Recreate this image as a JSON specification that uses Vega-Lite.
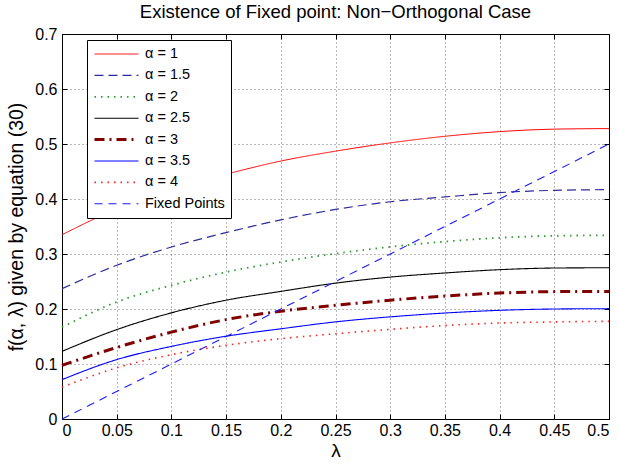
{
  "$schema": "https://vega.github.io/schema/vega-lite/v6.json",
  "width": 547,
  "height": 385,
  "autosize": {"type": "none"},
  "padding": {"left": 62, "top": 34, "right": 9, "bottom": 45},
  "background": "white",
  "title": {"text": "Existence of Fixed point: Non−Orthogonal Case", "font": "Liberation Sans", "fontSize": 18.5, "fontWeight": "normal", "color": "black", "offset": 5, "anchor": "middle"},
  "config": {
    "view": {"stroke": "black", "strokeWidth": 1},
    "font": "Liberation Sans",
    "axis": {"labelFont": "Liberation Sans", "labelFontSize": 16, "labelColor": "black", "titleFont": "Liberation Sans", "titleFontWeight": "normal", "titleColor": "black", "domainColor": "black", "tickColor": "black", "gridColor": "#000000", "gridOpacity": 0.55, "gridDash": [1, 3]}
  },
  "data": {"values": [
    {"series": "α = 1", "lam": 0, "f": 0.335}, {"series": "α = 1", "lam": 0.05, "f": 0.382}, {"series": "α = 1", "lam": 0.1, "f": 0.418}, {"series": "α = 1", "lam": 0.15, "f": 0.445}, {"series": "α = 1", "lam": 0.2, "f": 0.469}, {"series": "α = 1", "lam": 0.25, "f": 0.487}, {"series": "α = 1", "lam": 0.3, "f": 0.502}, {"series": "α = 1", "lam": 0.35, "f": 0.514}, {"series": "α = 1", "lam": 0.4, "f": 0.5225}, {"series": "α = 1", "lam": 0.45, "f": 0.527}, {"series": "α = 1", "lam": 0.5, "f": 0.528},
    {"series": "α = 1.5", "lam": 0, "f": 0.237}, {"series": "α = 1.5", "lam": 0.05, "f": 0.2795}, {"series": "α = 1.5", "lam": 0.1, "f": 0.3127}, {"series": "α = 1.5", "lam": 0.15, "f": 0.339}, {"series": "α = 1.5", "lam": 0.2, "f": 0.362}, {"series": "α = 1.5", "lam": 0.25, "f": 0.381}, {"series": "α = 1.5", "lam": 0.3, "f": 0.395}, {"series": "α = 1.5", "lam": 0.35, "f": 0.4037}, {"series": "α = 1.5", "lam": 0.4, "f": 0.4116}, {"series": "α = 1.5", "lam": 0.45, "f": 0.4158}, {"series": "α = 1.5", "lam": 0.5, "f": 0.417},
    {"series": "α = 2", "lam": 0, "f": 0.167}, {"series": "α = 2", "lam": 0.05, "f": 0.2127}, {"series": "α = 2", "lam": 0.1, "f": 0.243}, {"series": "α = 2", "lam": 0.15, "f": 0.267}, {"series": "α = 2", "lam": 0.2, "f": 0.2855}, {"series": "α = 2", "lam": 0.25, "f": 0.3007}, {"series": "α = 2", "lam": 0.3, "f": 0.313}, {"series": "α = 2", "lam": 0.35, "f": 0.3225}, {"series": "α = 2", "lam": 0.4, "f": 0.3295}, {"series": "α = 2", "lam": 0.45, "f": 0.333}, {"series": "α = 2", "lam": 0.5, "f": 0.334},
    {"series": "α = 2.5", "lam": 0, "f": 0.123}, {"series": "α = 2.5", "lam": 0.05, "f": 0.1625}, {"series": "α = 2.5", "lam": 0.1, "f": 0.193}, {"series": "α = 2.5", "lam": 0.15, "f": 0.216}, {"series": "α = 2.5", "lam": 0.2, "f": 0.232}, {"series": "α = 2.5", "lam": 0.25, "f": 0.247}, {"series": "α = 2.5", "lam": 0.3, "f": 0.258}, {"series": "α = 2.5", "lam": 0.35, "f": 0.2655}, {"series": "α = 2.5", "lam": 0.4, "f": 0.2715}, {"series": "α = 2.5", "lam": 0.45, "f": 0.2745}, {"series": "α = 2.5", "lam": 0.5, "f": 0.275},
    {"series": "α = 3", "lam": 0, "f": 0.0976}, {"series": "α = 3", "lam": 0.05, "f": 0.13}, {"series": "α = 3", "lam": 0.1, "f": 0.158}, {"series": "α = 3", "lam": 0.15, "f": 0.1807}, {"series": "α = 3", "lam": 0.2, "f": 0.196}, {"series": "α = 3", "lam": 0.25, "f": 0.2067}, {"series": "α = 3", "lam": 0.3, "f": 0.216}, {"series": "α = 3", "lam": 0.35, "f": 0.2235}, {"series": "α = 3", "lam": 0.4, "f": 0.229}, {"series": "α = 3", "lam": 0.45, "f": 0.2316}, {"series": "α = 3", "lam": 0.5, "f": 0.232},
    {"series": "α = 3.5", "lam": 0, "f": 0.0716}, {"series": "α = 3.5", "lam": 0.05, "f": 0.108}, {"series": "α = 3.5", "lam": 0.1, "f": 0.132}, {"series": "α = 3.5", "lam": 0.15, "f": 0.1505}, {"series": "α = 3.5", "lam": 0.2, "f": 0.164}, {"series": "α = 3.5", "lam": 0.25, "f": 0.1766}, {"series": "α = 3.5", "lam": 0.3, "f": 0.1857}, {"series": "α = 3.5", "lam": 0.35, "f": 0.1927}, {"series": "α = 3.5", "lam": 0.4, "f": 0.1976}, {"series": "α = 3.5", "lam": 0.45, "f": 0.2}, {"series": "α = 3.5", "lam": 0.5, "f": 0.2006},
    {"series": "α = 4", "lam": 0, "f": 0.058}, {"series": "α = 4", "lam": 0.05, "f": 0.093}, {"series": "α = 4", "lam": 0.1, "f": 0.117}, {"series": "α = 4", "lam": 0.15, "f": 0.134}, {"series": "α = 4", "lam": 0.2, "f": 0.146}, {"series": "α = 4", "lam": 0.25, "f": 0.155}, {"series": "α = 4", "lam": 0.3, "f": 0.163}, {"series": "α = 4", "lam": 0.35, "f": 0.17}, {"series": "α = 4", "lam": 0.4, "f": 0.1745}, {"series": "α = 4", "lam": 0.45, "f": 0.1765}, {"series": "α = 4", "lam": 0.5, "f": 0.1776},
    {"series": "Fixed Points", "lam": 0, "f": 0}, {"series": "Fixed Points", "lam": 0.5, "f": 0.5}
  ]},
  "layer": [
    {
      "mark": {"type": "line", "interpolate": "monotone"},
      "encoding": {
        "x": {"field": "lam", "type": "quantitative", "scale": {"domain": [0, 0.5], "nice": false, "zero": false},
          "axis": {"orient": "bottom", "title": "λ", "titleFontSize": 19, "titlePadding": 3, "values": [0, 0.05, 0.1, 0.15, 0.2, 0.25, 0.3, 0.35, 0.4, 0.45, 0.5], "format": "~g", "tickSize": -5, "labelPadding": 8, "grid": true}},
        "y": {"field": "f", "type": "quantitative", "scale": {"domain": [0, 0.7], "nice": false, "zero": false},
          "axis": {"orient": "left", "title": "f(α, λ) given by equation (30)", "titleFontSize": 19.5, "titlePadding": 8, "values": [0, 0.1, 0.2, 0.3, 0.4, 0.5, 0.6, 0.7], "format": "~g", "tickSize": -5, "labelPadding": 10, "grid": true}},
        "color": {"field": "series", "type": "nominal",
          "scale": {"domain": ["α = 1", "α = 1.5", "α = 2", "α = 2.5", "α = 3", "α = 3.5", "α = 4", "Fixed Points"],
                    "range": ["#ff0000", "#2b2b9a", "#2e9a2e", "#000000", "#800000", "#0000ff", "#ff2020", "#1a1aff"]},
          "legend": {"orient": "none", "legendX": 25, "legendY": 6, "title": null, "symbolType": "stroke", "symbolSize": 1936, "clipHeight": 16, "rowPadding": 5.4, "labelFont": "Liberation Sans", "labelFontSize": 14.5, "labelColor": "black", "strokeColor": "black", "fillColor": "white", "padding": 6, "labelOffset": 5, "labelLimit": 200}},
        "strokeDash": {"field": "series", "type": "nominal",
          "scale": {"domain": ["α = 1", "α = 1.5", "α = 2", "α = 2.5", "α = 3", "α = 3.5", "α = 4", "Fixed Points"],
                    "range": [[1, 0], [9, 5], [1.5, 5], [1, 0], [10, 5, 2, 5], [1, 0], [1.5, 5], [8, 6]]},
          "legend": {"title": null}},
        "strokeWidth": {"field": "series", "type": "nominal",
          "scale": {"type": "ordinal", "domain": ["α = 1", "α = 1.5", "α = 2", "α = 2.5", "α = 3", "α = 3.5", "α = 4", "Fixed Points"],
                    "range": [1, 1.2, 1.8, 1.1, 3, 1.1, 1.6, 1.1]},
          "legend": {"title": null}}
      }
    },
    {
      "mark": {"type": "line", "opacity": 0},
      "encoding": {
        "x": {"field": "lam", "type": "quantitative", "axis": {"orient": "top", "title": null, "labels": false, "grid": false, "domain": false, "tickSize": -5, "values": [0, 0.05, 0.1, 0.15, 0.2, 0.25, 0.3, 0.35, 0.4, 0.45, 0.5]}},
        "y": {"field": "f", "type": "quantitative", "axis": {"orient": "right", "title": null, "labels": false, "grid": false, "domain": false, "tickSize": -5, "values": [0, 0.1, 0.2, 0.3, 0.4, 0.5, 0.6, 0.7]}},
        "detail": {"field": "series"}
      }
    }
  ]
}
